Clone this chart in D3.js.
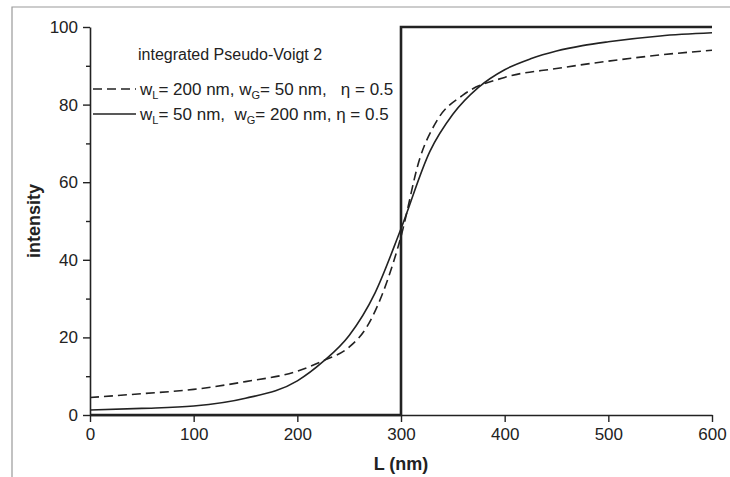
<!DOCTYPE html>
<html>
<head>
<meta charset="utf-8">
<script src="https://cdn.jsdelivr.net/npm/d3@7"></script>
<style>
  body { margin: 0; background: #fff; }
  svg { display: block; font-family: "Liberation Sans", Arial, sans-serif; }
  text { fill: #222; white-space: pre; }
</style>
</head>
<body>
<script>
// step function (ideal edge at L = 300 nm)
const stepL = [0, 300, 300, 600];
const stepI = [0, 0, 100, 100];

// wL = 200 nm, wG = 50 nm (dashed)
const dashL = [0, 50, 100, 150, 200, 225, 250, 267, 286, 300, 318, 335, 360, 400, 450, 500, 550, 600];
const dashI = [4.5, 5.5, 6.6, 8.6, 11.3, 14, 17.5, 22.7, 34, 46, 66, 76, 82.5, 87, 89.3, 91.2, 92.8, 94];

// wL = 50 nm, wG = 200 nm (solid)
const solidL = [0, 50, 100, 150, 200, 225, 250, 275, 300, 328, 350, 375, 400, 425, 450, 475, 500, 550, 600];
const solidI = [1.3, 1.7, 2.3, 4.3, 8.8, 13.8, 20.5, 31.5, 48, 68, 77.5, 84.5, 89, 91.8, 93.8, 95.2, 96.2, 97.7, 98.5];

const xTicks = [0, 100, 200, 300, 400, 500, 600];
const yTicks = [0, 20, 40, 60, 80, 100];
const yMinor = [10, 30, 50, 70, 90];

const W = 730, H = 477;
const svg = d3.select('body').append('svg')
  .attr('width', W)
  .attr('height', H);

// grey outer frame (top and left edges of the scanned figure)
svg.append('path')
  .attr('d', `M12,${H} V7 H${W}`)
  .attr('fill', 'none')
  .attr('stroke', '#9a9a9a')
  .attr('stroke-width', 1.2);

const x = d3.scaleLinear().domain([0, 600]).range([90, 712]);
const y = d3.scaleLinear().domain([0, 100]).range([415, 27]);

const ink = '#222';

// x axis
const gx = svg.append('g')
  .attr('transform', `translate(0,${y(0)})`)
  .call(d3.axisBottom(x).tickValues(xTicks).tickSize(7).tickSizeOuter(0).tickPadding(6));
gx.select('.domain').attr('stroke', ink).attr('stroke-width', 1.6);
gx.selectAll('.tick line').attr('stroke', ink).attr('stroke-width', 1.4);
gx.selectAll('.tick text').attr('font-size', 17).attr('fill', ink).attr('font-family', null);

// y axis
const gy = svg.append('g')
  .attr('transform', `translate(${x(0)},0)`)
  .call(d3.axisLeft(y).tickValues(yTicks).tickSize(7).tickSizeOuter(0).tickPadding(5));
gy.select('.domain').attr('stroke', ink).attr('stroke-width', 1.6);
gy.selectAll('.tick line').attr('stroke', ink).attr('stroke-width', 1.4);
gy.selectAll('.tick text').attr('font-size', 17).attr('fill', ink).attr('font-family', null);

svg.append('g')
  .attr('transform', `translate(${x(0)},0)`)
  .call(d3.axisLeft(y).tickValues(yMinor).tickSize(4).tickFormat(''))
  .call(g => g.select('.domain').remove())
  .selectAll('.tick line').attr('stroke', ink).attr('stroke-width', 1.4);

// axis titles
svg.append('text')
  .attr('x', x(300))
  .attr('y', 470)
  .attr('text-anchor', 'middle')
  .attr('font-size', 18)
  .attr('font-weight', 'bold')
  .text('L (nm)');

svg.append('text')
  .attr('transform', `translate(40,${y(50)}) rotate(-90)`)
  .attr('text-anchor', 'middle')
  .attr('font-size', 18)
  .attr('font-weight', 'bold')
  .text('intensity');

// curves
const line = d3.line()
  .x(d => x(d[0]))
  .y(d => y(d[1]));
const smooth = d3.line()
  .x(d => x(d[0]))
  .y(d => y(d[1]))
  .curve(d3.curveMonotoneX);

svg.append('path')
  .datum(d3.zip(stepL, stepI))
  .attr('d', line)
  .attr('fill', 'none')
  .attr('stroke', ink)
  .attr('stroke-width', 2.6);

svg.append('path')
  .datum(d3.zip(dashL, dashI))
  .attr('d', smooth)
  .attr('fill', 'none')
  .attr('stroke', ink)
  .attr('stroke-width', 1.6)
  .attr('stroke-dasharray', '9,5');

svg.append('path')
  .datum(d3.zip(solidL, solidI))
  .attr('d', smooth)
  .attr('fill', 'none')
  .attr('stroke', ink)
  .attr('stroke-width', 1.6);

// legend
const legend = svg.append('g');
legend.append('text')
  .attr('x', 138)
  .attr('y', 60)
  .attr('font-size', 16)
  .text('integrated Pseudo-Voigt 2');

const entries = [
  { dash: '9,5', y: 95, parts: ['w', 'L', '= 200 nm, w', 'G', '= 50 nm,   \u03b7 = 0.5'] },
  { dash: null, y: 120, parts: ['w', 'L', '= 50 nm,  w', 'G', '= 200 nm, \u03b7 = 0.5'] }
];
entries.forEach(e => {
  legend.append('line')
    .attr('x1', 93).attr('x2', 136)
    .attr('y1', e.y - 6).attr('y2', e.y - 6)
    .attr('stroke', ink)
    .attr('stroke-width', 1.6)
    .attr('stroke-dasharray', e.dash);
  const t = legend.append('text')
    .attr('x', 140)
    .attr('y', e.y)
    .attr('font-size', 17);
  e.parts.forEach((p, i) => {
    const sub = i % 2 === 1;
    t.append('tspan')
      .attr('font-size', sub ? 11 : 17)
      .attr('dy', sub ? 4 : (i > 0 ? -4 : 0))
      .text(p);
  });
});
</script>
</body>
</html>
